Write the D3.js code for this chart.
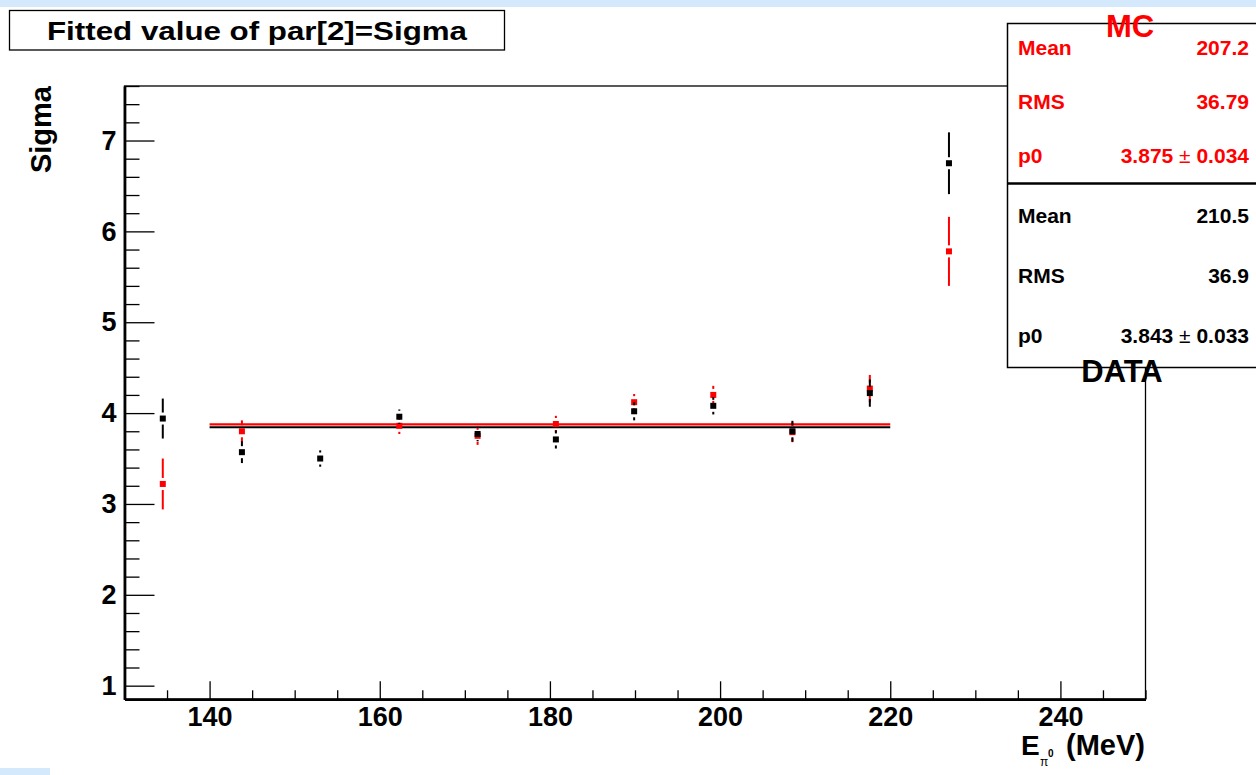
<!DOCTYPE html>
<html>
<head>
<meta charset="utf-8">
<script src="https://cdn.jsdelivr.net/npm/d3@7"></script>
<style>
  html, body { margin: 0; padding: 0; background: #ffffff; }
  svg { display: block; font-family: "Liberation Sans", Arial, Helvetica, sans-serif; font-weight: bold; }
</style>
</head>
<body>
<svg id="chart" width="1256" height="775"></svg>
<script>
// ---------- data ----------
const energies   = [134.5, 143.8, 153.0, 162.3, 171.5, 180.7, 189.9, 199.2, 208.5, 217.6, 226.9];
const mcSigma    = [3.22, 3.80, null, 3.86, 3.75, 3.88, 4.12, 4.20, 3.79, 4.27, 5.78];
const mcErr      = [0.28, 0.12, null, 0.09, 0.10, 0.09, 0.09, 0.10, 0.11, 0.15, 0.38];
const dataSigma  = [3.94, 3.57, 3.50, 3.96, 3.77, 3.71, 4.02, 4.08, 3.80, 4.22, 6.75];
const dataErr    = [0.22, 0.12, 0.09, 0.08, 0.08, 0.10, 0.10, 0.095, 0.115, 0.15, 0.34];
const fitRange   = [140, 220];
const mcFit      = 3.875;
const dataFit    = 3.843;
const xDomain    = [130, 250];
const yDomain    = [0.85, 7.6];
const xTicks     = [140, 160, 180, 200, 220, 240];
const yTicks     = [1, 2, 3, 4, 5, 6, 7];
const titleText  = "Fitted value of par[2]=Sigma";
const mcStats    = [["Mean", "207.2"], ["RMS", "36.79"], ["p0", "3.875", "0.034"]];
const dataStats  = [["Mean", "210.5"], ["RMS", "36.9"], ["p0", "3.843", "0.033"]];

const RED = "#ff0000", BLACK = "#000000";

const svg = d3.select("#chart");

// background decorations (light blue strips of the original screenshot)
svg.append("rect").attr("x", 0).attr("y", 0).attr("width", 1256).attr("height", 7).attr("fill", "#d4e9fb");
svg.append("rect").attr("x", 0).attr("y", 768).attr("width", 50).attr("height", 7).attr("fill", "#d4e9fb");

// ---------- scales ----------
const L = 124.5, R = 1145.5, T = 86, B = 699.3;
const x = d3.scaleLinear().domain(xDomain).range([L, R]);
const y = d3.scaleLinear().domain(yDomain).range([B, T]);

// frame
svg.append("rect").attr("x", L).attr("y", T).attr("width", R - L).attr("height", B - T)
  .attr("fill", "none").attr("stroke", "#000").attr("stroke-width", 1.3);

// ---------- axes ----------
const yMinor = d3.range(1.0, 7.61, 0.2).map(v => +v.toFixed(2)).filter(v => !yTicks.includes(v));
const xMinor = d3.range(135, 250.1, 5).filter(v => !xTicks.includes(v));

const gyMinor = svg.append("g").attr("transform", `translate(${L},0)`)
  .call(d3.axisLeft(y).tickValues(yMinor).tickSize(-15).tickSizeOuter(0).tickFormat(""));
const gy = svg.append("g").attr("transform", `translate(${L},0)`)
  .call(d3.axisLeft(y).tickValues(yTicks).tickSize(-30).tickSizeOuter(0).tickPadding(8).tickFormat(d3.format("d")));
const gxMinor = svg.append("g").attr("transform", `translate(0,${B})`)
  .call(d3.axisBottom(x).tickValues(xMinor).tickSize(-9).tickSizeOuter(0).tickFormat(""));
const gx = svg.append("g").attr("transform", `translate(0,${B})`)
  .call(d3.axisBottom(x).tickValues(xTicks).tickSize(-18).tickSizeOuter(0).tickPadding(8).tickFormat(d3.format("d")));

[gy, gyMinor, gx, gxMinor].forEach(g => {
  g.selectAll(".tick line").attr("stroke", "#000").attr("stroke-width", 1.3);
  g.select(".domain").attr("stroke", "#000").attr("stroke-width", 2.4);
  g.selectAll("text").attr("fill", "#000").attr("font-size", 27).attr("font-weight", "bold")
    .attr("font-family", "Liberation Sans, Arial, sans-serif");
});

// axis titles
svg.append("text").attr("transform", `translate(51,${T}) rotate(-90)`)
  .attr("text-anchor", "end").attr("font-size", 29).text("Sigma");

const xt = svg.append("g");
xt.append("text").attr("x", 1021).attr("y", 755).attr("font-size", 28).text("E");
xt.append("text").attr("x", 1040).attr("y", 766).attr("font-size", 12).attr("font-weight", "normal").text("π");
xt.append("text").attr("x", 1048).attr("y", 757).attr("font-size", 10).text("0");
xt.append("text").attr("x", 1145).attr("y", 755).attr("text-anchor", "end").attr("font-size", 29).text("(MeV)");

// ---------- fit lines ----------
svg.append("line").attr("x1", x(fitRange[0])).attr("x2", x(fitRange[1]))
  .attr("y1", y(dataFit)).attr("y2", y(dataFit)).attr("stroke", BLACK).attr("stroke-width", 2);
svg.append("line").attr("x1", x(fitRange[0])).attr("x2", x(fitRange[1]))
  .attr("y1", y(mcFit)).attr("y2", y(mcFit)).attr("stroke", RED).attr("stroke-width", 2.2);

// ---------- points with error bars ----------
function drawSeries(vals, errs, color) {
  const g = svg.append("g");
  const gap = 6, ms = 6;
  energies.forEach((e, i) => {
    const v = vals[i];
    if (v == null) return;
    const cx = x(e), cy = y(v);
    const top = y(v + errs[i]), bot = y(v - errs[i]);
    if (cy - top > gap) g.append("line").attr("x1", cx).attr("x2", cx).attr("y1", top).attr("y2", cy - gap)
      .attr("stroke", color).attr("stroke-width", 2);
    if (bot - cy > gap) g.append("line").attr("x1", cx).attr("x2", cx).attr("y1", cy + gap).attr("y2", bot)
      .attr("stroke", color).attr("stroke-width", 2);
    g.append("rect").attr("x", cx - ms / 2).attr("y", cy - ms / 2).attr("width", ms).attr("height", ms).attr("fill", color);
  });
}
drawSeries(mcSigma, mcErr, RED);
drawSeries(dataSigma, dataErr, BLACK);

// ---------- title box ----------
svg.append("rect").attr("x", 9.5).attr("y", 10.5).attr("width", 495).attr("height", 39.5)
  .attr("fill", "#fff").attr("stroke", "#000").attr("stroke-width", 1.3);
svg.append("text").attr("x", 257).attr("y", 40).attr("font-size", 26).attr("text-anchor", "middle")
  .attr("textLength", 420).attr("lengthAdjust", "spacingAndGlyphs").text(titleText);

// ---------- stats boxes ----------
const SX = 1007.5, SR = 1262;
svg.append("rect").attr("x", SX).attr("y", 23.5).attr("width", SR - SX).attr("height", 344)
  .attr("fill", "#fff").attr("stroke", "#000").attr("stroke-width", 1.5);
svg.append("line").attr("x1", SX).attr("x2", SR).attr("y1", 183.5).attr("y2", 183.5)
  .attr("stroke", "#000").attr("stroke-width", 2.4);

function statRows(rows, baselines, color) {
  rows.forEach((r, i) => {
    svg.append("text").attr("x", 1018).attr("y", baselines[i]).attr("font-size", 21).attr("fill", color).text(r[0]);
    const t = svg.append("text").attr("x", 1249).attr("y", baselines[i]).attr("font-size", 21)
      .attr("fill", color).attr("text-anchor", "end");
    if (r.length === 3) {
      t.append("tspan").text(r[1] + " ");
      t.append("tspan").attr("font-weight", "normal").text("±");
      t.append("tspan").text(" " + r[2]);
    } else t.text(r[1]);
  });
}
statRows(mcStats, [55, 109, 163], RED);
statRows(dataStats, [222.5, 282.5, 343], BLACK);

svg.append("text").attr("x", 1130).attr("y", 37).attr("text-anchor", "middle").attr("font-size", 31)
  .attr("fill", RED).text("MC");
svg.append("text").attr("x", 1122).attr("y", 382).attr("text-anchor", "middle").attr("font-size", 31)
  .attr("fill", BLACK).text("DATA");
</script>
</body>
</html>
